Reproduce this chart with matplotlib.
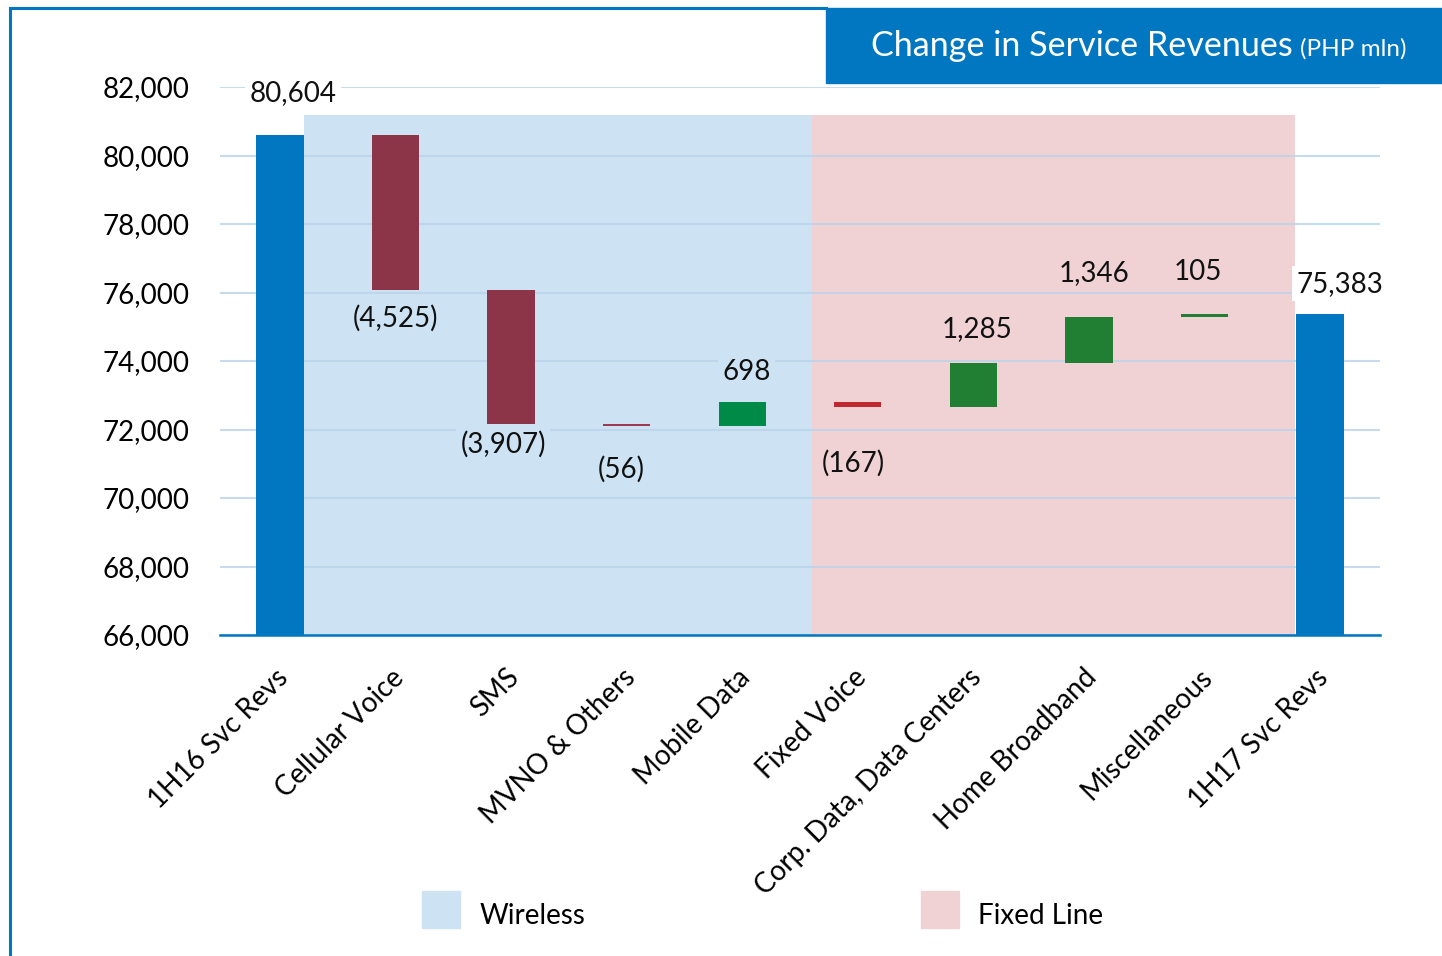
import matplotlib
matplotlib.use('Agg')
import matplotlib.pyplot as plt
from matplotlib.patches import Rectangle
from matplotlib.lines import Line2D
from matplotlib.transforms import ScaledTranslation

plt.rcParams['font.family'] = ['Lato', 'DejaVu Sans']

# data
categories = ['1H16 Svc Revs', 'Cellular Voice', 'SMS', 'MVNO & Others', 'Mobile Data',
              'Fixed Voice', 'Corp. Data, Data Centers', 'Home Broadband',
              'Miscellaneous', '1H17 Svc Revs']
start_total = 80604
changes = [-4525, -3907, -56, 698, -167, 1285, 1346, 105]
end_total = 75383
yticks = [66000, 68000, 70000, 72000, 74000, 76000, 78000, 80000, 82000]

# styles
BLUE = '#0077c0'
bar_colors = [BLUE, '#8c3448', '#8c3448', '#9e3a50', '#008a48',
              '#c0282f', '#217f33', '#217f33', '#217f33', BLUE]
WIRELESS = '#cde3f3'
FIXED = '#f0d2d5'
label_dy = [42, 29, 21, 44, 30, 56, 34, 44, 42, 30]   # px gap between bar edge and label centre
label_dx = [13, 0, -8, -5, 4, -4, 4, 5, -7, 20]

# waterfall geometry
bottoms, heights = [66000], [start_total - 66000]
level = start_total
for c in changes:
    bottoms.append(min(level, level + c))
    heights.append(abs(c))
    level += c
bottoms.append(66000)
heights.append(end_total - 66000)
values = [start_total] + changes + [end_total]

fig = plt.figure(figsize=(14.42, 9.56), dpi=100)
ax = fig.add_axes([220 / 1442, 1 - 635 / 956, 1160 / 1442, 548 / 956])
x = list(range(len(categories)))

# group shading
ax.add_patch(Rectangle((0.21, 66000), 4.39, 81180 - 66000, color=WIRELESS, zorder=0, lw=0))
ax.add_patch(Rectangle((4.6, 66000), 4.18, 81180 - 66000, color=FIXED, zorder=0, lw=0))

for yv in yticks:
    ax.axhline(yv, color='#b9d3ea', lw=1.5, alpha=0.8, zorder=1)

ax.bar(x, heights, bottom=bottoms, width=0.41, color=bar_colors, zorder=3)

for i, v in enumerate(values):
    if i in (0, len(values) - 1):
        txt, up, bg = f'{v:,}', True, 'white'
    else:
        txt = f'{v:,}' if v > 0 else f'({-v:,})'
        up = v > 0
        bg = WIRELESS if i <= 4 else FIXED
    yref = bottoms[i] + heights[i] if up else bottoms[i]
    dy = label_dy[i] * 0.72 * (1 if up else -1)
    ax.annotate(txt, (i, yref), xytext=(label_dx[i] * 0.72, dy), textcoords='offset points',
                ha='center', va='center', fontsize=20, color='#111111', zorder=4,
                bbox=dict(boxstyle='square,pad=0.15', fc=bg, ec='none'))

ax.set_xlim(-0.52, 9.52)
ax.set_ylim(66000, 82000)
ax.set_yticks(yticks)
ax.set_yticklabels([f'{t:,}' for t in yticks], fontsize=20)
ax.set_xticks(x)
ax.set_xticklabels(categories, rotation=45, ha='right', rotation_mode='anchor', fontsize=20)
ax.tick_params(length=0)
ax.tick_params(axis='y', pad=22)
ax.tick_params(axis='x', pad=21)
for lbl in ax.get_xticklabels():
    lbl.set_transform(lbl.get_transform() + ScaledTranslation(-0.05, 0, fig.dpi_scale_trans))
for s in ['top', 'right', 'left']:
    ax.spines[s].set_visible(False)
ax.spines['bottom'].set_color(BLUE)
ax.spines['bottom'].set_linewidth(1.8)
ax.spines['bottom'].set_zorder(5)

# frame lines and title box
W, H = 1442, 956
fig.add_artist(Line2D([10 / W, 10 / W], [0, 1 - 8 / H], color=BLUE, lw=2.2))
fig.add_artist(Line2D([10 / W, 826 / W], [1 - 8 / H, 1 - 8 / H], color=BLUE, lw=2.2))
fig.add_artist(Rectangle((826 / W, 1 - 83 / H), 616 / W, 75 / H, color=BLUE,
                         transform=fig.transFigure))
fig.text(1293 / W, 1 - 56 / H, 'Change in Service Revenues', color='white', fontsize=24.6,
         ha='right', va='baseline')
fig.text(1300 / W, 1 - 56 / H, '(PHP mln)', color='white', fontsize=17.5, ha='left', va='baseline')

# legend
fig.add_artist(Rectangle((422 / W, 1 - 928 / H), 38 / W, 37 / H, color=WIRELESS,
                         transform=fig.transFigure))
fig.text(480 / W, 1 - 916 / H, 'Wireless', fontsize=20, va='center')
fig.add_artist(Rectangle((921 / W, 1 - 928 / H), 38 / W, 37 / H, color=FIXED,
                         transform=fig.transFigure))
fig.text(978 / W, 1 - 916 / H, 'Fixed Line', fontsize=20, va='center')

fig.savefig('out.png', dpi=100)
